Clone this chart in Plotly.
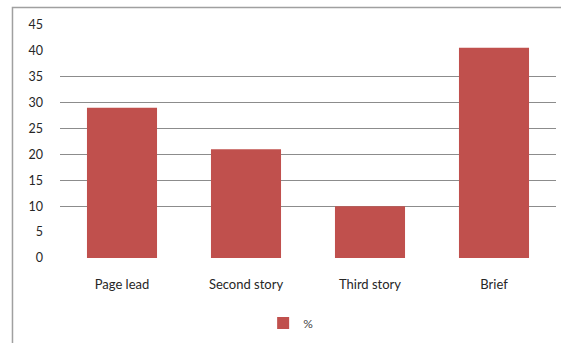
import plotly.graph_objects as go

# Share of items by story position
categories = ["Page lead", "Second story", "Third story", "Brief"]
percent = [29, 21, 10, 40.6]
y_ticks = [0, 5, 10, 15, 20, 25, 30, 35, 40, 45]
grid_levels = [10, 15, 20, 25, 30, 35]

BAR = "#C0504D"
FONT = dict(family="Lato, Liberation Sans, sans-serif", size=12, color="#262626")

fig = go.Figure()
fig.add_trace(go.Bar(
    x=categories, y=percent, name="%",
    marker=dict(color=BAR, line=dict(width=0)),
))

fig.update_layout(
    width=561, height=343,
    margin=dict(l=60, r=5, t=25, b=85),
    paper_bgcolor="white", plot_bgcolor="white",
    font=FONT,
    bargap=0.435,
    showlegend=True,
    legend=dict(orientation="h", x=0.465, xanchor="center", y=-0.279, yanchor="middle",
                font=dict(size=12, color="#444")),
    xaxis=dict(showgrid=False, showline=False, ticks="", zeroline=False,
               tickfont=dict(size=13), ticklabelstandoff=17),
    yaxis=dict(range=[0, 45], tickvals=y_ticks, showgrid=False, zeroline=False,
               showline=False, ticks="", ticklen=0, ticklabelstandoff=16,
               tickfont=dict(size=12.5)),
    yaxis2=dict(range=[0, 45], overlaying="y", tickvals=grid_levels, showgrid=True,
                gridcolor="#8c8c8c", gridwidth=1, showticklabels=False,
                zeroline=False, showline=False),
)
# empty trace to bind the grid axis
fig.add_trace(go.Scatter(x=[], y=[], yaxis="y2", showlegend=False))
fig.update_layout(yaxis2_layer="below traces")

# outer chart frame (left and top edges visible)
fig.add_shape(type="rect", xref="paper", yref="paper",
              x0=-0.0958, x1=1.1, y0=-0.4, y1=1.075,
              line=dict(color="#a0a0a0", width=1.5), layer="below")

fig.write_html("out.html")
